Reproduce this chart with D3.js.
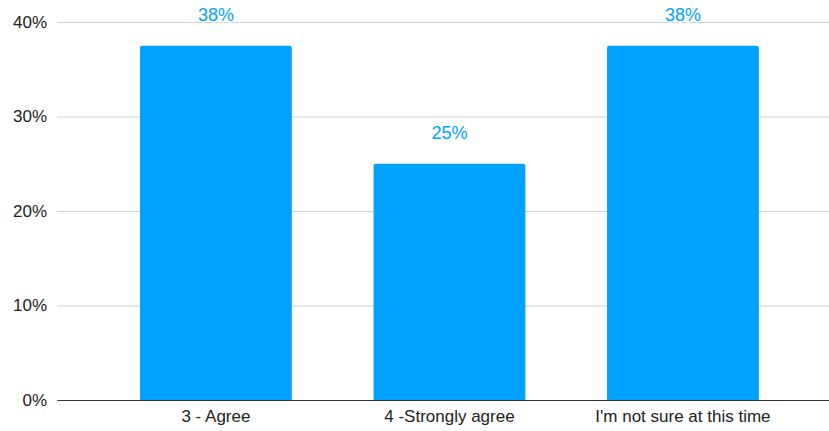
<!DOCTYPE html>
<html>
<head>
<meta charset="utf-8">
<script src="https://cdn.jsdelivr.net/npm/d3@7"></script>
<style>
  body { margin: 0; background: #fff; }
  text { font-family: "Liberation Sans", Arial, Helvetica, sans-serif; }
</style>
</head>
<body>
<div id="chart"></div>
<script>
// Data
const categories = ['3 - Agree', '4 -Strongly agree', "I'm not sure at this time"];
const shares = [37.5, 25, 37.5];
const valueLabels = ['38%', '25%', '38%'];
const yTicks = [0, 10, 20, 30, 40];

const config = {
  width: 829,
  height: 431,
  margin: { top: 22, right: 0, bottom: 31, left: 57 },
  barColor: '#00a2ff'
};

const innerW = config.width - config.margin.left - config.margin.right;
const innerH = config.height - config.margin.top - config.margin.bottom;

const svg = d3.select('#chart').append('svg')
  .attr('width', config.width)
  .attr('height', config.height);

const g = svg.append('g')
  .attr('transform', `translate(${config.margin.left},${config.margin.top})`);

const xScale = d3.scaleBand()
  .domain(categories)
  .range([0, innerW])
  .paddingInner(0.35)
  .paddingOuter(0.328)
  .align(0.542);

const yScale = d3.scaleLinear()
  .domain([0, 40])
  .range([innerH, 0]);

// Gridlines + y labels
const yAxis = d3.axisLeft(yScale)
  .tickValues(yTicks)
  .tickFormat(d => d + '%')
  .tickSize(-innerW)
  .tickPadding(10);

const yAxisG = g.append('g').attr('class', 'y-axis').call(yAxis);
yAxisG.select('.domain').remove();
yAxisG.selectAll('.tick line')
  .attr('stroke', '#d0d0d0')
  .attr('stroke-width', 1);
yAxisG.selectAll('.tick text')
  .attr('fill', '#222')
  .attr('font-size', 17);

// Bars with slightly rounded top corners
const r = 2;
const barPath = (x, y, w, h) =>
  `M${x},${y + h}V${y + r}Q${x},${y} ${x + r},${y}H${x + w - r}Q${x + w},${y} ${x + w},${y + r}V${y + h}Z`;

g.selectAll('.bar')
  .data(categories)
  .join('path')
  .attr('class', 'bar')
  .attr('fill', config.barColor)
  .attr('d', (d, i) => barPath(xScale(d), yScale(shares[i]), xScale.bandwidth(), innerH - yScale(shares[i])));

// Value labels
g.selectAll('.value-label')
  .data(categories)
  .join('text')
  .attr('class', 'value-label')
  .attr('x', d => xScale(d) + xScale.bandwidth() / 2)
  .attr('y', (d, i) => yScale(shares[i]) - 25)
  .attr('text-anchor', 'middle')
  .attr('font-size', 18)
  .attr('fill', config.barColor)
  .attr('stroke', '#fff')
  .attr('stroke-width', 3)
  .attr('paint-order', 'stroke')
  .text((d, i) => valueLabels[i]);

// X axis
const xAxis = d3.axisBottom(xScale)
  .tickSize(0)
  .tickPadding(10);

const xAxisG = g.append('g')
  .attr('class', 'x-axis')
  .attr('transform', `translate(0,${innerH})`)
  .call(xAxis);
xAxisG.select('.domain')
  .attr('stroke', '#333')
  .attr('stroke-width', 1);
xAxisG.selectAll('.tick text')
  .attr('fill', '#222')
  .attr('font-size', 17);
</script>
</body>
</html>
